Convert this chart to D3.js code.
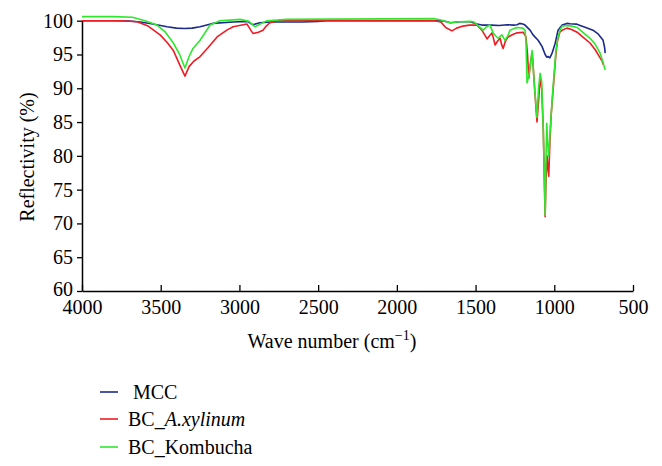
<!DOCTYPE html>
<html>
<head>
<meta charset="utf-8">
<script src="https://cdn.jsdelivr.net/npm/d3@7"></script>
<style>
  html, body { margin: 0; padding: 0; background: #fff; }
  svg { display: block; }
  text { font-family: "Liberation Serif", "DejaVu Serif", serif; fill: #000; }
</style>
</head>
<body>
<svg id="chart" width="662" height="466"></svg>
<script>
// ---- Data (wave number cm^-1, reflectivity %) ----
const mccData = [
  [4000,100.0],[3800,100.0],[3700,99.95],[3630,99.8],[3550,99.5],[3460,99.1],[3400,98.9],[3350,98.85],
  [3300,98.9],[3250,99.1],[3170,99.6],[3040,99.8],[2950,99.9],[2915,99.4],[2870,99.7],[2800,99.8],
  [2600,99.8],[2500,99.9],[2450,100.0],[1760,100.0],[1700,99.95],[1660,99.7],[1600,99.85],[1535,99.85],
  [1490,99.5],[1460,99.35],[1400,99.35],[1350,99.3],[1300,99.4],[1260,99.35],[1236,99.4],[1220,99.6],
  [1200,99.5],[1186,99.35],[1154,98.6],[1135,97.9],[1103,97.1],[1078,96.2],[1058,95.0],[1048,94.6],
  [1040,94.7],[1028,94.5],[1014,95.2],[995,96.6],[976,98.6],[950,99.35],[920,99.6],[900,99.55],
  [860,99.5],[836,99.3],[800,99.0],[754,98.6],[720,98.0],[690,97.1],[680,96.0],[677,95.2]
];
const xylinumData = [
  [4000,100.0],[3750,100.0],[3650,99.85],[3580,99.2],[3504,97.9],[3460,96.8],[3420,95.6],[3380,93.5],
  [3346,91.8],[3320,93.2],[3290,94.0],[3250,94.7],[3200,96.0],[3142,97.6],[3080,98.6],[3040,99.1],
  [2952,99.5],[2925,98.5],[2913,98.1],[2880,98.3],[2850,98.6],[2830,99.2],[2806,99.7],[2750,100.0],
  [1760,100.0],[1720,99.8],[1690,99.0],[1650,98.5],[1620,98.9],[1580,99.2],[1540,99.35],[1490,99.35],
  [1460,98.6],[1427,97.3],[1410,97.8],[1395,98.2],[1376,96.4],[1360,97.0],[1344,97.4],[1335,96.5],
  [1325,95.9],[1310,97.0],[1293,97.6],[1260,98.0],[1236,98.2],[1198,98.3],[1180,97.6],[1170,95.0],
  [1162,91.5],[1150,94.0],[1140,95.3],[1125,90.0],[1110,85.0],[1100,88.0],[1090,91.5],[1080,90.0],
  [1070,84.0],[1062,75.0],[1058,71.0],[1052,77.0],[1046,80.0],[1040,78.0],[1035,77.0],[1028,82.0],
  [1020,86.0],[1010,89.0],[1000,92.0],[990,95.0],[980,97.0],[965,98.3],[950,98.6],[919,98.9],
  [890,98.7],[855,98.3],[820,97.6],[773,96.7],[740,95.7],[709,94.5],[695,94.0],[690,93.5]
];
const kombuchaData = [
  [4000,100.6],[3800,100.6],[3680,100.5],[3600,100.0],[3524,99.35],[3470,98.3],[3420,96.7],[3380,95.0],
  [3346,93.0],[3320,94.7],[3295,95.9],[3250,97.1],[3187,99.35],[3123,100.0],[2996,100.2],[2940,99.9],
  [2901,99.1],[2860,99.6],[2825,100.0],[2700,100.2],[1760,100.3],[1720,100.1],[1662,99.7],[1600,99.85],
  [1535,99.9],[1515,99.85],[1480,99.2],[1452,98.6],[1430,99.1],[1408,99.35],[1389,98.2],[1370,97.7],
  [1357,97.4],[1333,97.9],[1313,97.1],[1295,97.8],[1281,98.6],[1250,98.9],[1230,99.0],[1200,98.9],
  [1186,98.6],[1180,97.0],[1173,90.8],[1160,92.0],[1141,95.6],[1125,90.0],[1110,85.7],[1100,90.0],
  [1090,92.2],[1080,91.0],[1070,84.0],[1062,76.0],[1058,71.2],[1054,78.0],[1048,84.8],[1042,82.0],
  [1035,80.0],[1028,83.0],[1020,86.0],[1010,89.5],[1000,92.5],[990,95.5],[976,97.6],[960,98.8],
  [950,99.2],[920,99.3],[890,99.2],[855,99.0],[820,98.3],[773,97.4],[740,96.5],[709,95.2],
  [690,93.8],[677,92.7]
];
const seriesNames = ["MCC", "BC_A.xylinum", "BC_Kombucha"];
const xTicks = [4000, 3500, 3000, 2500, 2000, 1500, 1000, 500];
const yTicks = [60, 65, 70, 75, 80, 85, 90, 95, 100];

// ---- Drawing ----
const svg = d3.select("#chart");
const x = d3.scaleLinear().domain([4000, 500]).range([82, 633]);
const y = d3.scaleLinear().domain([60, 100]).range([291, 20.7]);

const series = [
  { name: seriesNames[0], data: mccData, color: "#1c2a8c" },
  { name: seriesNames[1], data: xylinumData, color: "#ee1c24" },
  { name: seriesNames[2], data: kombuchaData, color: "#2ee82e" }
];

const line = d3.line().x(d => x(d[0])).y(d => y(d[1]));

series.forEach(s => {
  svg.append("path")
    .datum(s.data)
    .attr("fill", "none")
    .attr("stroke", s.color)
    .attr("stroke-width", 1.6)
    .attr("stroke-linejoin", "round")
    .attr("d", line);
});

// Axes
const fmt = d3.format("d");
const yAxis = d3.axisLeft(y).tickValues(yTicks).tickFormat(fmt).tickSizeInner(5).tickSizeOuter(0).tickPadding(4);
const gy = svg.append("g").attr("transform", "translate(82,0)").call(yAxis);
const xAxis = d3.axisBottom(x).tickValues(xTicks).tickFormat(fmt).tickSizeInner(-6).tickSizeOuter(0).tickPadding(9);
const gx = svg.append("g").attr("transform", "translate(0,291)").call(xAxis);

[gx, gy].forEach(g => {
  g.select(".domain").attr("stroke", "#000").attr("stroke-width", 1.5);
  g.selectAll(".tick line").attr("stroke", "#000").attr("stroke-width", 1.3);
  g.selectAll(".tick text")
    .style("font-family", "'Liberation Serif', serif")
    .style("font-size", "20px")
    .attr("fill", "#000");
});
// lift the bottom-most y label a touch so it doesn't collide with "4000"
gy.selectAll(".tick").filter(d => d === 60).select("text").attr("dy", "0.2em");

// Axis titles
svg.append("text")
  .attr("x", 332).attr("y", 348)
  .attr("text-anchor", "middle")
  .style("font-size", "20px")
  .call(t => {
    t.append("tspan").text("Wave number (cm");
    t.append("tspan").text("\u22121").attr("dy", -8).style("font-size", "14px");
    t.append("tspan").text(")").attr("dy", 8);
  });

svg.append("text")
  .attr("transform", "translate(34,157) rotate(-90)")
  .attr("text-anchor", "middle")
  .style("font-size", "20px")
  .text("Reflectivity (%)");

// Legend
const legendY = [392, 419, 447];
series.forEach((s, i) => {
  svg.append("line")
    .attr("x1", 100).attr("x2", 118)
    .attr("y1", legendY[i]).attr("y2", legendY[i])
    .attr("stroke", s.color).attr("stroke-width", 1.6);
});
svg.append("text").attr("x", 133).attr("y", legendY[0] + 7).style("font-size", "20px").text("MCC");
svg.append("text").attr("x", 128).attr("y", legendY[1] + 7).style("font-size", "20px")
  .call(t => {
    t.append("tspan").text("BC_");
    t.append("tspan").text("A.xylinum").style("font-style", "italic");
  });
svg.append("text").attr("x", 128).attr("y", legendY[2] + 7).style("font-size", "20px").text("BC_Kombucha");
</script>
</body>
</html>
